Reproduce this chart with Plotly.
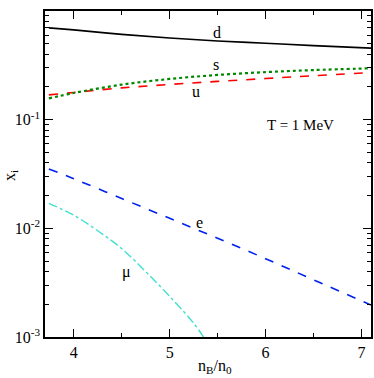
import math
import plotly.graph_objects as go

x_main = [3.74, 4.0, 4.5, 5.0, 5.5, 6.0, 6.5, 7.1]
d_vals = [0.70, 0.67, 0.61, 0.565, 0.53, 0.505, 0.48, 0.455]
u_vals = [0.169, 0.178, 0.196, 0.211, 0.225, 0.239, 0.254, 0.271]
s_vals = [0.157, 0.176, 0.210, 0.237, 0.258, 0.274, 0.286, 0.297]
e_vals = [0.0352, 0.0286, 0.0188, 0.01236, 0.0081, 0.00526, 0.00336, 0.00197]

x_mu = [3.74, 4.0, 4.25, 4.5, 4.75, 5.0, 5.25, 5.36]
mu_vals = [0.0170, 0.0132, 0.0095, 0.0065, 0.0040, 0.00237, 0.00134, 0.00098]

y_tickvals = [1e-3, 1e-2, 1e-1, 1]
y_ticktext = ["10<sup>-3</sup>", "10<sup>-2</sup>", "10<sup>-1</sup>", "10<sup>0</sup>"]
x_tickvals = [4, 5, 6, 7]

labels = [("d", 5.49, 0.628), ("s", 5.48, 0.319), ("u", 5.27, 0.18),
          ("e", 5.31, 0.0113), ("\u03bc", 4.55, 0.0040), ("T = 1 MeV", 6.36, 0.089)]

FONT = "Liberation Serif, Times New Roman, serif"

fig = go.Figure()
fig.add_trace(go.Scatter(x=x_main, y=d_vals, mode="lines", line=dict(color="black", width=1.6, shape="spline")))
fig.add_trace(go.Scatter(x=x_main, y=u_vals, mode="lines", line=dict(color="#ff0000", width=1.6, dash="dash", shape="spline")))
fig.add_trace(go.Scatter(x=x_main, y=s_vals, mode="lines", line=dict(color="#008800", width=2.2, dash="dot", shape="spline")))
fig.add_trace(go.Scatter(x=x_main, y=e_vals, mode="lines", line=dict(color="#0022ee", width=1.6, dash="dash", shape="spline")))
fig.add_trace(go.Scatter(x=x_mu, y=mu_vals, mode="lines", line=dict(color="#40e0d0", width=1.4, dash="dashdot", shape="spline")))

for txt, lx, ly in labels:
    fig.add_annotation(x=lx, y=math.log10(ly), yref="y", xref="x", text=txt, showarrow=False,
                       font=dict(family=FONT, size=16 if len(txt) < 3 else 15, color="black"))

# axis titles
fig.add_annotation(x=0.52, y=-0.092, xref="paper", yref="paper", xanchor="center", yanchor="middle",
                   text="n<sub>B</sub>/n<sub>0</sub>",
                   showarrow=False, font=dict(family=FONT, size=16, color="black"))
fig.add_annotation(x=-0.106, y=0.495, xref="paper", yref="paper", xanchor="center", yanchor="middle",
                   text="x<sub>i</sub>",
                   showarrow=False, textangle=-90, font=dict(family=FONT, size=16, color="black"))

fig.update_layout(
    width=374, height=378,
    margin=dict(l=45, r=3, t=11, b=41),
    paper_bgcolor="white", plot_bgcolor="white",
    showlegend=False,
    font=dict(family=FONT, size=16, color="black"),
)
fig.update_xaxes(range=[3.7, 7.1], tickvals=x_tickvals, ticks="inside", ticklen=8, tickwidth=1,
                 tickcolor="black", mirror="allticks", showline=True, linecolor="black", linewidth=1.5,
                 showgrid=False, zeroline=False, automargin=False,
                 minor=dict(tickvals=[3.5, 4.5, 5.5, 6.5], ticks="inside", ticklen=4, tickcolor="black"),
                 tickfont=dict(family=FONT, size=16))
fig.update_yaxes(type="log", range=[-3, 0], tickvals=y_tickvals, ticktext=y_ticktext, ticks="inside",
                 ticklen=8, tickwidth=1, tickcolor="black", mirror="allticks", showline=True,
                 linecolor="black", linewidth=1.5, showgrid=False, zeroline=False, automargin=False,
                 minor=dict(ticks="inside", ticklen=4, tickcolor="black", dtick="D1", showgrid=False),
                 tickfont=dict(family=FONT, size=16))

fig.write_html("out.html", config={"displayModeBar": False},
               post_script="document.body.style.margin='0';")
